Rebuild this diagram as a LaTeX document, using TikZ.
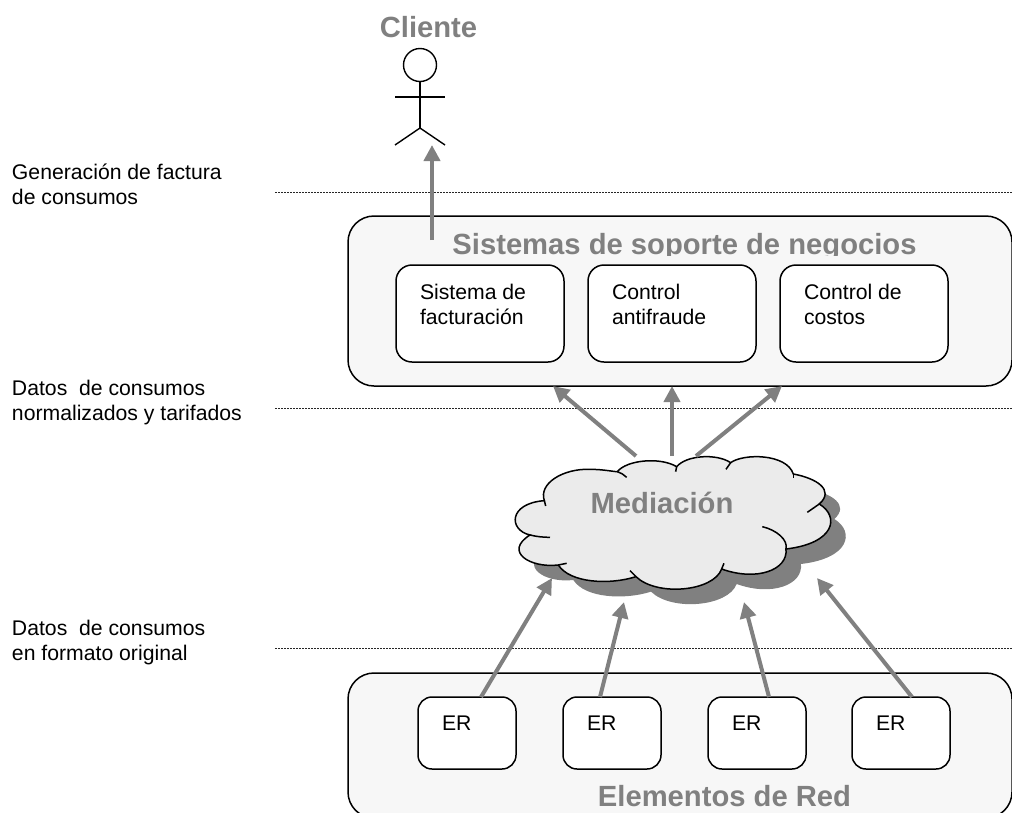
\documentclass[tikz,border=0pt]{standalone}
\usepackage{fontspec}
\setmainfont{Liberation Sans}
\usetikzlibrary{positioning,arrows.meta}
\definecolor{titlegray}{HTML}{808080}
\tikzset{
	>={Triangle[length=16pt,width=16pt]}
}
\newcommand{\cloudoutline}{
	(133,302) .. controls (115,250) and (190,205) .. (270,208)
	.. controls (310,208) and (340,215) .. (352,215)
	.. controls (380,180) and (480,170) .. (530,200)
	.. controls (560,165) and (650,160) .. (692,188)
	.. controls (730,160) and (860,160) .. (880,222)
	.. controls (950,235) and (1005,270) .. (958,312)
	.. controls (1020,350) and (1005,430) .. (858,447)
	.. controls (865,510) and (770,545) .. (665,507)
	.. controls (640,575) and (470,590) .. (408,530)
	.. controls (330,555) and (210,550) .. (175,495)
	.. controls (90,505) and (10,455) .. (90,405)
	.. controls (25,390) and (25,310) .. (133,302) -- cycle
}

\begin{document}
\begin{tikzpicture}[
x = 1pt,
y = -1pt,
node distance = 24pt,
every node/.style = {
	font = \fontsize{21.2}{24.5}\selectfont,
	inner sep = 0pt,
	outer sep = 0pt
},
panel/.style = {
	draw,
	line width = 1.5pt,
	rounded corners = 26pt,
	fill = black!3,
	minimum width = 664pt
},
unit/.style = {
	draw,
	line width = 1.5pt,
	rounded corners = 16pt,
	fill = white,
	minimum width = 168pt,
	minimum height = 97pt
},
er/.style = {
	draw,
	line width = 1.5pt,
	rounded corners = 14pt,
	fill = white,
	minimum width = 98pt,
	minimum height = 72pt
},
title/.style = {
	text = titlegray,
	font = \fontsize{29.2}{32}\selectfont\bfseries
},
note/.style = {
	align = left,
	anchor = base west
},
separator/.style = {
	line width = .7pt,
	black!85,
	dash pattern = on 2pt off 1pt
},
flow/.style = {
	->,
	line width = 4pt,
	titlegray
},
person/.style = {
	line width = 1.4pt
},
lobe/.style = {
	line width = 1.5pt
}
]
\useasboundingbox (0,0) rectangle (1012,812);

% left notes and separators
\node (note_factura) [note] at (12,204) {Generación de factura\\de consumos};
\node (note_tarifados) [note] at (12,420) {Datos~~de consumos\\normalizados y tarifados};
\node (note_original) [note] at (12,660) {Datos~~de consumos\\en formato original};

\coordinate (sep1_l) at (275,192);
\coordinate (sep1_r) at (1012,192);
\coordinate (sep2_l) at (275,408);
\coordinate (sep2_r) at (1012,408);
\coordinate (sep3_l) at (275,648);
\coordinate (sep3_r) at (1012,648);
\draw [separator] (sep1_l) -- (sep1_r);
\draw [separator] (sep2_l) -- (sep2_r);
\draw [separator] (sep3_l) -- (sep3_r);

% client
\node (cliente) [title, anchor = base] at (428.5,37) {Cliente};
\node (head) [draw, person, circle, minimum size = 33pt] at (420,65) {};
\coordinate (hip) at (420,128);
\coordinate (arm_l) at (395,97);
\coordinate (arm_r) at (445,97);
\coordinate (leg_l) at (395,145);
\coordinate (leg_r) at (445,145);
\draw [person] (head) -- (hip);
\draw [person] (arm_l) -- (arm_r);
\draw [person] (leg_l) -- (hip) -- (leg_r);

% business support
\node (soporte) [panel, minimum height = 170pt] at (680,301) {};
\begin{scope}
\clip (348,200) rectangle (1012,255);
\node (soporte_t) [title, anchor = base] at (684.5,254) {Sistemas de soporte de negocios};
\end{scope}

\node (sistema) [unit, below right = 49pt and 48pt of soporte.north west] {};
\node (sistema_t) [note] at (420,324) {Sistema de\\facturación};
\node (antifraude) [unit, right = of sistema] {};
\node (antifraude_t) [note] at (612,324) {Control\\antifraude};
\node (costos) [unit, right = of antifraude] {};
\node (costos_t) [note] at (804,324) {Control de\\costos};

% network elements
\node (elementos) [panel, minimum height = 145pt] at (680,745.5) {};
\node (elementos_t) [title, anchor = base] at (724.5,806) {Elementos de Red};

\node (er1) [er, below right = 24pt and 70pt of elementos.north west] {};
\node (er1_t) [note] at (442,730) {ER};
\node (er2) [er, right = 47pt of er1] {};
\node (er2_t) [note] at (587,730) {ER};
\node (er3) [er, right = 47pt of er2] {};
\node (er3_t) [note] at (732,730) {ER};
\node (er4) [er, right = 46pt of er3] {};
\node (er4_t) [note] at (876,730) {ER};

% cloud
\begin{scope}[shift = {(515,415)}, x = .3333pt, y = -.3333pt]
\fill [titlegray] \cloudoutline;
\end{scope}
\begin{scope}[shift = {(500,400)}, x = .3333pt, y = -.3333pt]
\filldraw [fill = black!8, lobe] \cloudoutline;
\draw [lobe] (352,215) .. controls (362,218) and (372,224) .. (380,232);
\draw [lobe] (133,302) -- (137,318);
\draw [lobe] (90,405) .. controls (110,410) and (130,412) .. (150,412);
\draw [lobe] (175,495) -- (200,490);
\draw [lobe] (408,530) -- (390,512);
\draw [lobe] (665,507) -- (672,490);
\draw [lobe] (858,447) .. controls (865,420) and (830,390) .. (787,380);
\draw [lobe] (958,312) -- (922,337);
\draw [lobe] (880,222) -- (880,235);
\draw [lobe] (692,188) -- (678,208);
\draw [lobe] (530,200) -- (527,215);
\end{scope}
\node (mediacion) [title, anchor = base] at (662,513) {Mediación};

% flows
\coordinate (to_cliente) at (432,145);
\coordinate (from_sistema) at (432,240);
\draw [flow] (from_sistema) -- (to_cliente);

\coordinate (cloud_top1) at (636,456);
\coordinate (cloud_top2) at (672,456);
\coordinate (cloud_top3) at (696,456);
\coordinate (in_sistema) at (553,386);
\coordinate (in_antifraude) at (672,386);
\coordinate (in_costos) at (782,386);
\draw [flow] (cloud_top1) -- (in_sistema);
\draw [flow] (cloud_top2) -- (in_antifraude);
\draw [flow] (cloud_top3) -- (in_costos);

\coordinate (cloud_in1) at (552,578);
\coordinate (cloud_in2) at (624,602);
\coordinate (cloud_in3) at (744,602);
\coordinate (cloud_in4) at (817,578);
\draw [flow] ([xshift = 14pt]er1.north) -- (cloud_in1);
\draw [flow] ([xshift = -12pt]er2.north) -- (cloud_in2);
\draw [flow] ([xshift = 12pt]er3.north) -- (cloud_in3);
\draw [flow] ([xshift = 11pt]er4.north) -- (cloud_in4);

\end{tikzpicture}
\end{document}
